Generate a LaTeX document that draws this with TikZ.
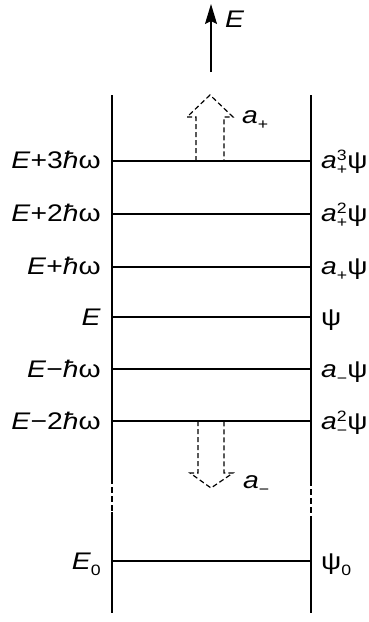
\documentclass[tikz,border=0pt]{standalone}
\usepackage{fontspec}
\setmainfont{Liberation Sans}[FakeStretch=1.18]
\usetikzlibrary{arrows.meta}
\newcommand\ssb[2]{\rlap{\raisebox{0.62ex}{\fontsize{15}{15}\selectfont #1}}\raisebox{-0.5ex}{\fontsize{15}{15}\selectfont #2}}
\newcommand\sbo[1]{\raisebox{-0.5ex}{\fontsize{15}{15}\selectfont #1}}
\begin{document}
\begin{tikzpicture}[x=1pt,y=-1pt,
  wall/.style={line width=1.8pt},
  level/.style={line width=1.7pt},
  hollow/.style={line width=1.2pt,dash pattern=on 5pt off 3pt},
  lab/.style={inner sep=0pt,font=\fontsize{24}{24}\selectfont},
  llab/.style={lab,anchor=base east},
  rlab/.style={lab,anchor=base west}]
\useasboundingbox (0,0) rectangle (369,622);
% walls
\coordinate (LT) at (112,95); \coordinate (LA) at (112,478);
\coordinate (LB) at (112,512); \coordinate (LZ) at (112,613);
\coordinate (RT) at (311,95); \coordinate (RA) at (311,480);
\coordinate (RB) at (311,518); \coordinate (RZ) at (311,613);
\draw[wall] (LT) -- (LA); \draw[wall,dash pattern=on 6pt off 3pt] (LA) -- (LB); \draw[wall] (LB) -- (LZ);
\draw[wall] (RT) -- (RA); \draw[wall,dash pattern=on 6pt off 3pt] (RA) -- (RB); \draw[wall] (RB) -- (RZ);
% levels
\foreach \n/\y in {p3/161,p2/214,p1/267,z/317,m1/369,m2/421,g/561}{
  \coordinate (L\n) at (112,\y); \coordinate (R\n) at (311,\y);
  \draw[level] (L\n) -- (R\n);
}
% left labels
\node[llab] (lp3) at (101,168) {\textit{E}+3\textit{ħ}ω};
\node[llab] (lp2) at (101,221) {\textit{E}+2\textit{ħ}ω};
\node[llab] (lp1) at (101,274) {\textit{E}+\textit{ħ}ω};
\node[llab] (lz)  at (101,325) {\textit{E}};
\node[llab] (lm1) at (101,377) {\textit{E}−\textit{ħ}ω};
\node[llab] (lm2) at (101,429) {\textit{E}−2\textit{ħ}ω};
\node[llab] (lg)  at (101,569) {\textit{E}\sbo{0}};
% right labels
\node[rlab] (rp3) at (321,168) {\textit{a}\ssb{3}{+}ψ};
\node[rlab] (rp2) at (321,221) {\textit{a}\ssb{2}{+}ψ};
\node[rlab] (rp1) at (321,274) {\textit{a}\sbo{+}ψ};
\node[rlab] (rz)  at (321,325) {ψ};
\node[rlab] (rm1) at (321,377) {\textit{a}\sbo{−}ψ};
\node[rlab] (rm2) at (321,429) {\textit{a}\ssb{2}{−}ψ};
\node[rlab] (rg)  at (321,569) {ψ\sbo{0}};
% energy axis
\coordinate (Ebot) at (211,72); \coordinate (Etop) at (211,4);
\draw[line width=1.2pt,-{Stealth[length=20pt,width=12pt,inset=3pt]}] (Ebot) -- (Etop);
\node[rlab] (Elab) at (225,27) {\textit{E}};
% raising operator arrow
\coordinate (u1) at (196,161); \coordinate (u2) at (196,117); \coordinate (u3) at (187,117);
\coordinate (u4) at (210,95); \coordinate (u5) at (233,117); \coordinate (u6) at (224,117);
\coordinate (u7) at (224,161);
\draw[hollow] (u1) -- (u2) -- (u3) -- (u4) -- (u5) -- (u6) -- (u7);
\node[rlab] (ap) at (242,123) {\textit{a}\sbo{+}};
% lowering operator arrow
\coordinate (d1) at (198,421); \coordinate (d2) at (198,473); \coordinate (d3) at (190,473);
\coordinate (d4) at (211,488); \coordinate (d5) at (233,473); \coordinate (d6) at (224,473);
\coordinate (d7) at (224,421);
\draw[hollow] (d1) -- (d2) -- (d3) -- (d4) -- (d5) -- (d6) -- (d7);
\node[rlab] (am) at (243,488) {\textit{a}\sbo{−}};
\end{tikzpicture}
\end{document}
